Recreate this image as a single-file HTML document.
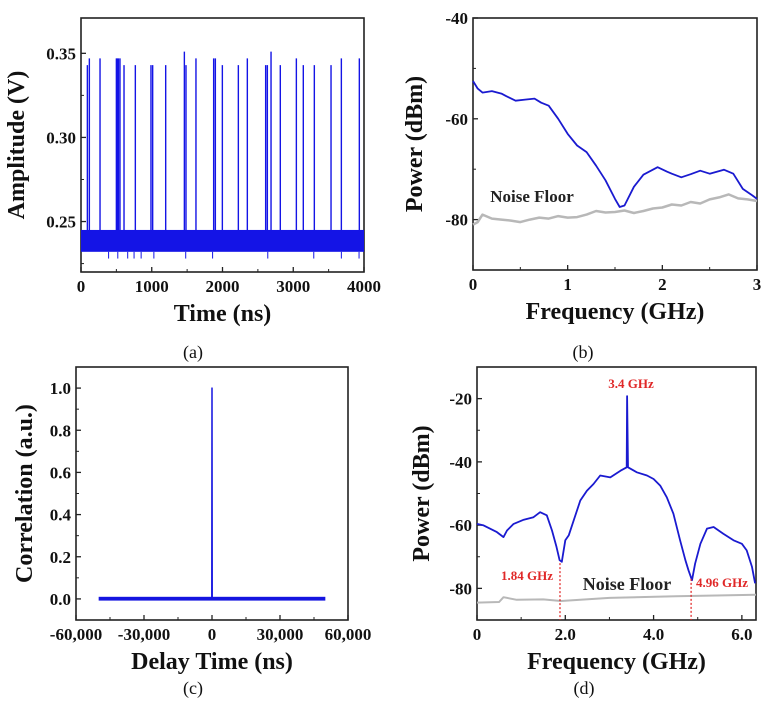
<!DOCTYPE html>
<html><head><meta charset="utf-8"><style>
html,body{margin:0;padding:0;background:#fff;}
svg{display:block;font-family:"Liberation Serif",serif;}
</style></head><body>
<svg id="fig" width="769" height="703" viewBox="0 0 769 703" xmlns="http://www.w3.org/2000/svg"></svg>
<script>
// ---- Panel (a) data ----
const aSpikeTimes=[90,118,269,500,514,530,551,608,768,989,1013,1197,1461,1484,1625,1875,1899,1998,2224,2351,2610,2634,2686,2817,3044,3142,3298,3534,3680,3934];
const aSpikeHeights=[0.343,0.347,0.347,0.347,0.347,0.347,0.347,0.343,0.343,0.343,0.343,0.343,0.351,0.343,0.347,0.347,0.347,0.343,0.343,0.347,0.343,0.343,0.351,0.343,0.347,0.343,0.343,0.343,0.347,0.347];
const aDipTimes=[390,520,660,750,850,1030,1480,1860,2640,3290,3680,3930];
const aBand=[0.232,0.245];
const aYTicks=[0.25,0.30,0.35];
const aXTicks=[0,1000,2000,3000,4000];
// ---- Panel (b) data ----
const bFreq=[0,0.05,0.1,0.2,0.3,0.35,0.45,0.55,0.65,0.72,0.8,0.9,1.0,1.1,1.2,1.3,1.4,1.5,1.55,1.6,1.7,1.8,1.95,2.05,2.1,2.2,2.3,2.4,2.5,2.65,2.75,2.85,2.95,3.0];
const bPower=[-52.5,-54,-54.8,-54.5,-55,-55.5,-56.4,-56.2,-56,-56.8,-57.4,-60,-63,-65.3,-66.6,-69.3,-72.2,-75.9,-77.5,-77.2,-73.5,-71.1,-69.6,-70.5,-70.9,-71.6,-71,-70.3,-70.9,-70.1,-70.9,-73.9,-75.2,-75.9];
const bNoiseFreq=[0,0.05,0.1,0.2,0.3,0.4,0.5,0.6,0.7,0.8,0.9,1.0,1.1,1.2,1.3,1.4,1.5,1.6,1.7,1.8,1.9,2.0,2.1,2.2,2.3,2.4,2.5,2.6,2.7,2.8,2.9,3.0];
const bNoise=[-81,-80.5,-79,-79.8,-80,-80.2,-80.5,-80,-79.6,-79.8,-79.3,-79.6,-79.5,-79,-78.3,-78.6,-78.5,-78.2,-78.7,-78.3,-77.8,-77.6,-77,-77.2,-76.5,-76.8,-76,-75.6,-75,-75.8,-76,-76.3];
const bYTicks=[-80,-60,-40];
const bXTicks=[0,1,2,3];
// ---- Panel (c) data ----
const cPeakX=[-100,0,100];
const cPeakY=[0,1.0,0];
const cNoiseRange=[-50000,50000];
const cNoiseAmp=[-0.008,0.01];
const cYTicks=[0.0,0.2,0.4,0.6,0.8,1.0];
const cXTicks=[-60000,-30000,0,30000,60000];
const cXLabels=["-60,000","-30,000","0","30,000","60,000"];
// ---- Panel (d) data ----
const dFreq=[0,0.15,0.45,0.6,0.68,0.83,1.06,1.28,1.43,1.58,1.7,1.8,1.87,1.92,2.0,2.08,2.19,2.34,2.49,2.64,2.79,3.02,3.25,3.39,3.4,3.42,3.62,3.85,4.0,4.15,4.3,4.45,4.6,4.72,4.79,4.87,4.94,5.06,5.21,5.36,5.58,5.81,6.0,6.11,6.23,6.3];
const dPower=[-59.6,-60.1,-62.2,-63.8,-61.7,-59.6,-58.3,-57.5,-55.9,-56.9,-61.7,-66.9,-71.1,-71.6,-64.8,-63.2,-58.5,-52.2,-49.1,-47,-44.3,-44.9,-42.8,-41.7,-19.2,-41.7,-43.3,-44.3,-45.4,-47.5,-51.2,-56.4,-64.8,-71.1,-74.3,-77.4,-72.2,-65.9,-61.1,-60.6,-62.7,-64.8,-65.9,-68,-73.2,-78.4];
const dNoiseFreq=[0,0.5,0.6,0.9,1.5,1.9,3.0,4.5,6.32];
const dNoise=[-84.5,-84.3,-82.8,-83.6,-83.5,-84,-83,-82.5,-82];
const dMarkFreq=[1.88,4.85];
const dMarkPower=[-72,-77];
const dYTicks=[-80,-60,-40,-20];
const dXTicks=[0,2,4,6];
const dXLabels=["0","2.0","4.0","6.0"];

const NS="http://www.w3.org/2000/svg";
const svg=document.getElementById('fig');
function mk(tag,attrs,parent){const e=document.createElementNS(NS,tag);for(const k in attrs)e.setAttribute(k,attrs[k]);(parent||svg).appendChild(e);return e;}
function txt(s,attrs,parent){const e=mk('text',attrs,parent);e.textContent=s;return e;}
function scale(d0,d1,r0,r1){return v=>r0+(v-d0)/(d1-d0)*(r1-r0);}

function panel(id,box,xd,yd,xt,xl,yt,yl,xtitle,ytitle,ytx,xMinor,yMinor){
  const g=mk('g',{});
  
  
  const sx=scale(xd[0],xd[1],box.x0,box.x1), sy=scale(yd[0],yd[1],box.y1,box.y0);
  const frame=mk('rect',{x:box.x0,y:box.y0,width:box.x1-box.x0,height:box.y1-box.y0,fill:'none',stroke:'#222','stroke-width':1.6},g);
  
  
  xt.forEach((v,i)=>{const x=sx(v);mk('line',{x1:x,x2:x,y1:box.y1,y2:box.y1-5,stroke:'#222','stroke-width':1.3},g);
    const t=txt(xl[i],{x:x,y:box.y1+20,'text-anchor':'middle','font-size':17,'font-weight':'bold',fill:'#111'},g);
    });
  xMinor.forEach(v=>{const x=sx(v);mk('line',{x1:x,x2:x,y1:box.y1,y2:box.y1-3,stroke:'#222','stroke-width':1},g);});
  yt.forEach((v,i)=>{const y=sy(v);mk('line',{x1:box.x0,x2:box.x0+5,y1:y,y2:y,stroke:'#222','stroke-width':1.3},g);
    const t=txt(yl[i],{x:box.x0-5,y:y+6,'text-anchor':'end','font-size':17,'font-weight':'bold',fill:'#111'},g);
    });
  yMinor.forEach(v=>{const y=sy(v);mk('line',{x1:box.x0,x2:box.x0+3,y1:y,y2:y,stroke:'#222','stroke-width':1},g);});
  const xt2=txt(xtitle,{x:(box.x0+box.x1)/2,y:box.y1+49,'text-anchor':'middle','font-size':24,'font-weight':'bold',fill:'#111'},g);
  
  const cy=(box.y0+box.y1)/2;
  const yt2=txt(ytitle,{x:ytx,y:cy,'text-anchor':'middle','font-size':24,'font-weight':'bold',fill:'#111',transform:`rotate(-90 ${ytx} ${cy})`},g);
  
  return {g,sx,sy};
}
function polyline(xs,ys,P,color,w,name){
  const pts=xs.map((x,i)=>P.sx(x).toFixed(1)+','+P.sy(ys[i]).toFixed(1)).join(' ');
  const p=mk('polyline',{points:pts,fill:'none',stroke:color,'stroke-width':w,'stroke-linejoin':'round'},P.g);
  return p;
}
function range(a,b,s){const r=[];for(let v=a;v<=b+1e-9;v+=s)r.push(+v.toFixed(6));return r;}

// Panel a
const A=panel('a',{x0:81,x1:364,y0:18,y1:272},[0,4000],[0.22,0.371],aXTicks,aXTicks.map(String),aYTicks,aYTicks.map(v=>v.toFixed(2)),'Time (ns)','Amplitude (V)',24,range(500,3500,1000),range(0.225,0.375,0.05).filter(v=>v<0.371));
const band=mk('rect',{x:A.sx(0),y:A.sy(aBand[1]),width:A.sx(4000)-A.sx(0),height:A.sy(aBand[0])-A.sy(aBand[1]),fill:'#1414e6'},A.g);

aSpikeTimes.forEach((t,i)=>{const l=mk('line',{x1:A.sx(t),x2:A.sx(t),y1:A.sy(aBand[1]),y2:A.sy(aSpikeHeights[i]),stroke:'#1414e6','stroke-width':1.4},A.g);
  });
aDipTimes.forEach(t=>{const l=mk('line',{x1:A.sx(t),x2:A.sx(t),y1:A.sy(aBand[0]),y2:A.sy(0.228),stroke:'#1414e6','stroke-width':1},A.g);
  });

// Panel b
const B=panel('b',{x0:473,x1:757,y0:18,y1:270},[0,3],[-90,-40],bXTicks,bXTicks.map(String),bYTicks,bYTicks.map(String),'Frequency (GHz)','Power (dBm)',422,range(0.5,2.5,1),range(-90,-50,10).filter(v=>v%20!==0));
polyline(bNoiseFreq,bNoise,B,'#b8b8b8',2.5,'noise-floor-line');
polyline(bFreq,bPower,B,'#1a1ad0',1.8,'spectrum-line');
const nb=txt('Noise Floor',{x:532,y:202,'text-anchor':'middle','font-size':17,'font-weight':'bold',fill:'#222'},B.g);


// Panel c
const C=panel('c',{x0:76,x1:348,y0:367,y1:620},[-60000,60000],[-0.1,1.1],cXTicks,cXLabels,cYTicks,cYTicks.map(v=>v.toFixed(1)),'Delay Time (ns)','Correlation (a.u.)',32,range(-45000,45000,30000),range(-0.1,1.1,0.2).filter(v=>v<1.1));
const cn=mk('rect',{x:C.sx(cNoiseRange[0]),y:C.sy(cNoiseAmp[1]),width:C.sx(cNoiseRange[1])-C.sx(cNoiseRange[0]),height:C.sy(cNoiseAmp[0])-C.sy(cNoiseAmp[1]),fill:'#1515e0'},C.g);

polyline(cPeakX,cPeakY,C,'#1515e0',1.5,'correlation-peak');

// Panel d
const D=panel('d',{x0:477,x1:756,y0:367,y1:620},[0,6.32],[-90,-10],dXTicks,dXLabels,dYTicks,dYTicks.map(String),'Frequency (GHz)','Power (dBm)',429,range(1,5,2),range(-90,-10,10).filter(v=>v%20!==0));
polyline(dNoiseFreq,dNoise,D,'#b8b8b8',2,'noise-floor-line');
polyline(dFreq,dPower,D,'#1a1ad0',1.8,'spectrum-line');
dMarkFreq.forEach((f,i)=>{const l=mk('line',{x1:D.sx(f),x2:D.sx(f),y1:D.sy(dMarkPower[i]),y2:620,stroke:'#e02020','stroke-width':1.2,'stroke-dasharray':'2,2'},D.g);
  });
[['3.4 GHz',631,388,'middle'],['1.84 GHz',527,580,'middle'],['4.96 GHz',722,587,'middle']].forEach(a=>{
  const t=txt(a[0],{x:a[1],y:a[2],'text-anchor':a[3],'font-size':13,'font-weight':'bold',fill:'#e02828'},D.g);
  });
const nd=txt('Noise Floor',{x:627,y:590,'text-anchor':'middle','font-size':18,'font-weight':'bold',fill:'#222'},D.g);


// captions
[['(a)',193,358],['(b)',583,358],['(c)',193,694],['(d)',584,694]].forEach(c=>{
  const t=txt(c[0],{x:c[1],y:c[2],'text-anchor':'middle','font-size':18,fill:'#111'});
  });
</script>
</body></html>
